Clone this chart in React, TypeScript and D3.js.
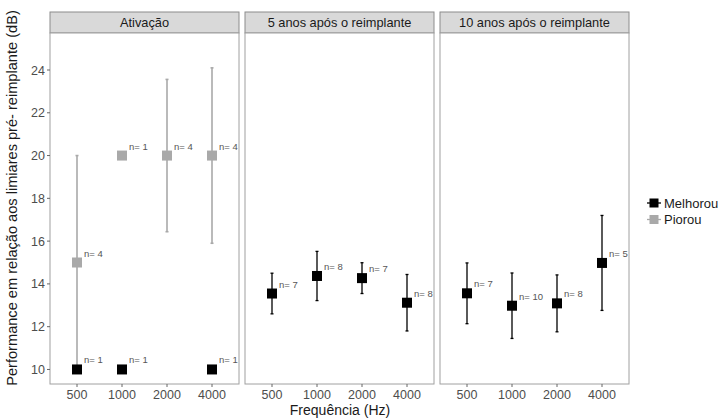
import React from "react";
import * as d3 from "d3";

const panels = ["Ativação", "5 anos após o reimplante", "10 anos após o reimplante"];
const freqs = ["500", "1000", "2000", "4000"];
const groups = ["Melhorou", "Piorou"];
const groupColors = ["#000000", "#a9a9a9"];

// mean, half error bar and n per frequency and group
const ativacao = [
  { f: "500", g: "Melhorou", m: 10, e: 0, n: 1 },
  { f: "1000", g: "Melhorou", m: 10, e: 0, n: 1 },
  { f: "4000", g: "Melhorou", m: 10, e: 0, n: 1 },
  { f: "500", g: "Piorou", m: 15, e: 5, n: 4 },
  { f: "1000", g: "Piorou", m: 20, e: 0, n: 1 },
  { f: "2000", g: "Piorou", m: 20, e: 3.56, n: 4 },
  { f: "4000", g: "Piorou", m: 20, e: 4.1, n: 4 },
];
const cinco = [
  { f: "500", g: "Melhorou", m: 13.55, e: 0.95, n: 7 },
  { f: "1000", g: "Melhorou", m: 14.37, e: 1.15, n: 8 },
  { f: "2000", g: "Melhorou", m: 14.27, e: 0.72, n: 7 },
  { f: "4000", g: "Melhorou", m: 13.12, e: 1.32, n: 8 },
];
const dez = [
  { f: "500", g: "Melhorou", m: 13.56, e: 1.42, n: 7 },
  { f: "1000", g: "Melhorou", m: 12.98, e: 1.53, n: 10 },
  { f: "2000", g: "Melhorou", m: 13.09, e: 1.33, n: 8 },
  { f: "4000", g: "Melhorou", m: 14.98, e: 2.22, n: 5 },
];
const panelData = [ativacao, cinco, dez];
const yTicks = [10, 12, 14, 16, 18, 20, 22, 24];

const W = 721;
const H = 418;
const panelLefts = [50, 245, 440];
const panelW = 189;
const stripTop = 12;
const plotTop = 33;
const plotBottom = 384;
const font = "'Liberation Sans', Arial, sans-serif";

export default function App() {
  const y = d3.scaleLinear().domain([9.32, 25.73]).range([plotBottom, plotTop]);
  const color = d3.scaleOrdinal<string, string>().domain(groups).range(groupColors);

  return (
    <svg width={W} height={H} style={{ position: "absolute", left: 0, top: 0, background: "#fff" }}>
      {panels.map((p, i) => {
        const left = panelLefts[i];
        const x = d3.scalePoint().domain(freqs).range([left, left + panelW]).padding(0.6);
        const data = panelData[i];
        return (
          <g key={p}>
            <rect x={left} y={stripTop} width={panelW} height={plotTop - stripTop} fill="#d9d9d9" stroke="#8c8c8c" strokeWidth={1} />
            <text x={left + panelW / 2} y={(stripTop + plotTop) / 2 + 4.5} textAnchor="middle" fontFamily={font} fontSize={12.8} fill="#1a1a1a">{p}</text>
            <rect x={left} y={plotTop} width={panelW} height={plotBottom - plotTop} fill="#fff" stroke="#a0a0a0" strokeWidth={1} />
            {freqs.map((f) => (
              <g key={f}>
                <line x1={x(f)} x2={x(f)} y1={plotBottom} y2={plotBottom + 3} stroke="#666" strokeWidth={1} />
                <text x={x(f)} y={plotBottom + 15} textAnchor="middle" fontFamily={font} fontSize={12.5} fill="#4d4d4d">{f}</text>
              </g>
            ))}
            {/* gray series first so black sits on top */}
            {[...data].sort((a, b) => (a.g === "Piorou" ? -1 : 1) - (b.g === "Piorou" ? -1 : 1)).map((d, j) => {
              const cx = x(d.f) as number;
              const cy = y(d.m);
              const c = color(d.g);
              const sw = d.g === "Piorou" ? 1.6 : 1.3;
              return (
                <g key={j}>
                  {d.e > 0 && (
                    <g stroke={c} strokeWidth={sw}>
                      <line x1={cx} x2={cx} y1={y(d.m - d.e)} y2={y(d.m + d.e)} />
                      <line x1={cx - 1.5} x2={cx + 1.5} y1={y(d.m - d.e)} y2={y(d.m - d.e)} />
                      <line x1={cx - 1.5} x2={cx + 1.5} y1={y(d.m + d.e)} y2={y(d.m + d.e)} />
                    </g>
                  )}
                  <rect x={cx - 5} y={cy - 5} width={10} height={10} fill={c} />
                  <text x={cx + 7} y={cy - 6} fontFamily={font} fontSize={9.5} fill="#555">{`n= ${d.n}`}</text>
                </g>
              );
            })}
          </g>
        );
      })}
      {yTicks.map((t) => (
        <g key={t}>
          <line x1={47} x2={50} y1={y(t)} y2={y(t)} stroke="#666" strokeWidth={1} />
          <text x={45} y={y(t) + 4.5} textAnchor="end" fontFamily={font} fontSize={12.5} fill="#4d4d4d">{t}</text>
        </g>
      ))}
      <text transform={`translate(17,${(stripTop + plotBottom) / 2}) rotate(-90)`} textAnchor="middle" fontFamily={font} fontSize={14.6} fill="#1a1a1a">
        Performance em relação aos limiares pré- reimplante (dB)
      </text>
      <text x={340} y={415} textAnchor="middle" fontFamily={font} fontSize={14} fill="#1a1a1a">Frequência (Hz)</text>
      {groups.map((g, i) => {
        const ly = 203 + i * 16.5;
        const c = color(g);
        return (
          <g key={g}>
            <line x1={647} x2={661} y1={ly} y2={ly} stroke={c} strokeWidth={1.3} />
            <rect x={649.5} y={ly - 4.5} width={9} height={9} fill={c} />
            <text x={664} y={ly + 4.5} fontFamily={font} fontSize={13} fill="#1a1a1a">{g}</text>
          </g>
        );
      })}
    </svg>
  );
}
